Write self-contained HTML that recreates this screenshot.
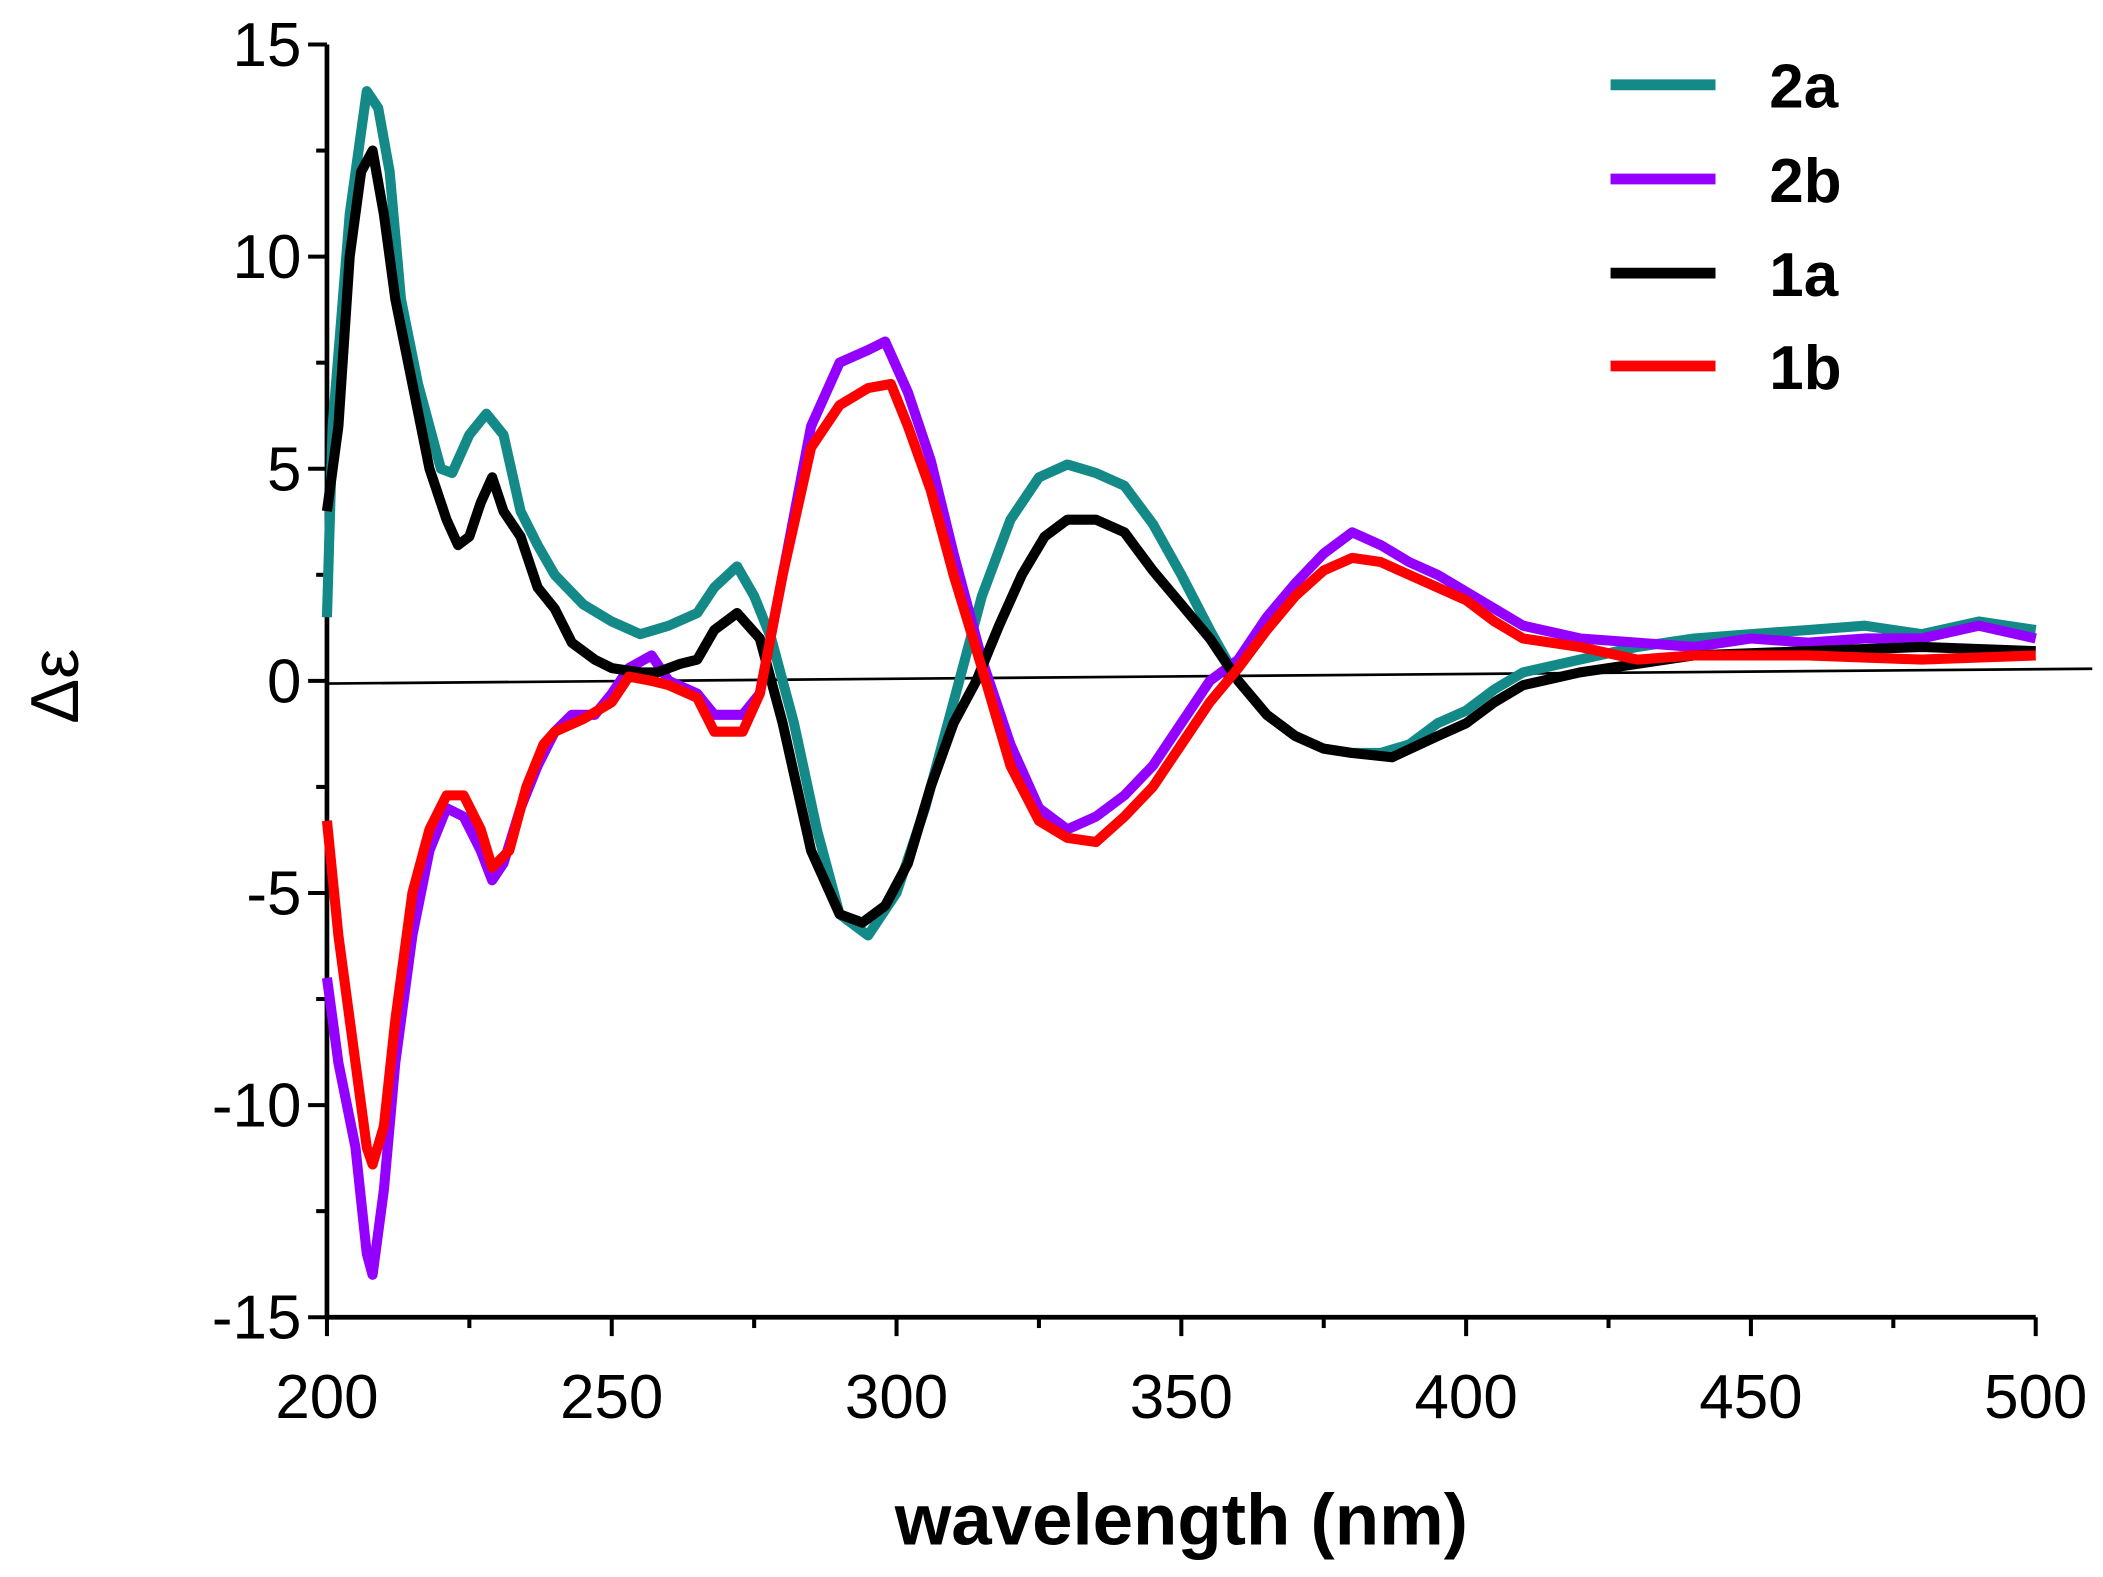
<!DOCTYPE html>
<html><head><meta charset="utf-8"><style>html,body{margin:0;padding:0;background:#fff}svg{display:block}</style></head>
<body>
<svg id="s" width="2103" height="1577" viewBox="0 0 1563 1172" xmlns="http://www.w3.org/2000/svg" font-family="Liberation Sans, Arial, sans-serif">
<rect width="1563" height="1172" fill="#fff"/>
<g id="ticks" stroke="#000" stroke-width="3"></g>
<line x1="243" y1="33" x2="243" y2="979" stroke="#000" stroke-width="3.5"/>
<line x1="243" y1="979" x2="1513" y2="979" stroke="#000" stroke-width="3.5"/>
<g id="yl" font-size="46" text-anchor="end"></g>
<g id="xl" font-size="46" text-anchor="middle"></g>
<line x1="243" y1="508" x2="1555" y2="497" stroke="#000" stroke-width="2"/>
<g id="series" fill="none" stroke-width="7.5" stroke-linejoin="round"></g>
<text x="878" y="1148" font-size="54" font-weight="bold" text-anchor="middle">wavelength (nm)</text>
<text transform="translate(58,510) rotate(-90)" font-size="50" text-anchor="middle">Δε</text>
<g stroke-width="8">
<line x1="1197" y1="63" x2="1275" y2="63" stroke="#138a87"/>
<line x1="1197" y1="133" x2="1275" y2="133" stroke="#9400ff"/>
<line x1="1197" y1="203" x2="1275" y2="203" stroke="#000"/>
<line x1="1197" y1="272" x2="1275" y2="272" stroke="#ff0000"/>
</g>
<g font-size="46" font-weight="bold">
<text x="1315" y="80">2a</text><text x="1315" y="150">2b</text><text x="1315" y="220">1a</text><text x="1315" y="289">1b</text>
</g>
</svg>
<script>
var X=n=>243+(n-200)*4.2333,Y=v=>506-v*31.53;
var ns="http://www.w3.org/2000/svg";
var t=document.getElementById('ticks'),yl=document.getElementById('yl'),xl=document.getElementById('xl');
function L(g,a,b,c,d){var l=document.createElementNS(ns,'line');l.setAttribute('x1',a);l.setAttribute('y1',b);l.setAttribute('x2',c);l.setAttribute('y2',d);g.appendChild(l);}
function T(g,x,y,s){var e=document.createElementNS(ns,'text');e.setAttribute('x',x);e.setAttribute('y',y);e.textContent=s;g.appendChild(e);}
for(var v=-15;v<=15;v+=2.5){var maj=v%5==0;L(t,243,Y(v),243-(maj?14:8),Y(v));if(maj)T(yl,224,Y(v)+16,String(v));}
for(var n=200;n<=500;n+=25){var maj=n%50==0;L(t,X(n),979,X(n),979+(maj?14:8));if(maj)T(xl,X(n),1054,String(n));}
var D={
"#138a87":[[200,1.5],[201,6],[204,11],[207,13.9],[209,13.5],[211,12],[213,9],[216,7],[220,5],[222,4.9],[225,5.8],[228,6.3],[231,5.8],[234,4],[237,3.2],[240,2.5],[245,1.8],[250,1.4],[255,1.1],[260,1.3],[265,1.6],[268,2.2],[272,2.7],[275,2],[278,1],[282,-1],[286,-3.5],[290,-5.5],[295,-6],[300,-5],[305,-3],[310,-0.5],[315,2],[320,3.8],[325,4.8],[330,5.1],[335,4.9],[340,4.6],[345,3.7],[350,2.5],[355,1.2],[360,0],[365,-0.8],[370,-1.3],[375,-1.6],[380,-1.7],[385,-1.7],[390,-1.5],[395,-1],[400,-0.7],[405,-0.2],[410,0.2],[420,0.5],[430,0.8],[440,1],[450,1.1],[460,1.2],[470,1.3],[480,1.1],[490,1.4],[500,1.2]],
"#9400ff":[[200,-7],[202,-9],[205,-11],[207,-13.5],[208,-14],[210,-12],[212,-9],[215,-6],[218,-4],[221,-3],[224,-3.2],[227,-4],[229,-4.7],[231,-4.3],[234,-3],[237,-2],[240,-1.2],[243,-0.8],[247,-0.8],[250,-0.3],[253,0.3],[257,0.6],[260,0],[265,-0.3],[268,-0.8],[273,-0.8],[276,-0.3],[280,2.5],[285,6],[290,7.5],[295,7.8],[298,8],[302,6.8],[306,5.2],[310,3],[315,0.5],[320,-1.5],[325,-3],[330,-3.5],[335,-3.2],[340,-2.7],[345,-2],[350,-1],[355,0],[360,0.5],[365,1.5],[370,2.3],[375,3],[380,3.5],[385,3.2],[390,2.8],[395,2.5],[400,2.1],[405,1.7],[410,1.3],[420,1],[430,0.9],[440,0.8],[450,1],[460,0.9],[470,1],[480,1],[490,1.3],[500,1]],
"#000000":[[200,4],[202,6],[204,10],[206,12],[208,12.5],[210,11],[212,9],[215,7],[218,5],[221,3.8],[223,3.2],[225,3.4],[227,4.2],[229,4.8],[231,4],[234,3.4],[237,2.2],[240,1.7],[243,0.9],[247,0.5],[250,0.3],[255,0.2],[258,0.2],[262,0.4],[265,0.5],[268,1.2],[272,1.6],[276,1],[280,-1],[285,-4],[290,-5.5],[294,-5.7],[298,-5.3],[302,-4.3],[306,-2.5],[310,-1],[314,0],[318,1.3],[322,2.5],[326,3.4],[330,3.8],[335,3.8],[340,3.5],[345,2.6],[350,1.8],[355,1],[360,0],[365,-0.8],[370,-1.3],[375,-1.6],[380,-1.7],[387,-1.8],[395,-1.3],[400,-1],[405,-0.5],[410,-0.1],[420,0.2],[430,0.4],[440,0.6],[460,0.7],[480,0.8],[500,0.7]],
"#ff0000":[[200,-3.3],[202,-6],[205,-9],[207,-11],[208,-11.4],[210,-10.5],[212,-8],[215,-5],[218,-3.5],[221,-2.7],[224,-2.7],[227,-3.5],[229,-4.4],[232,-4],[235,-2.5],[238,-1.5],[240,-1.2],[245,-0.9],[250,-0.5],[253,0.1],[257,0],[260,-0.1],[265,-0.4],[268,-1.2],[273,-1.2],[276,-0.3],[280,2.5],[285,5.5],[290,6.5],[295,6.9],[299,7],[302,6],[306,4.5],[310,2.5],[315,0.3],[320,-2],[325,-3.3],[330,-3.7],[335,-3.8],[340,-3.2],[345,-2.5],[350,-1.5],[355,-0.5],[360,0.3],[365,1.2],[370,2],[375,2.6],[380,2.9],[385,2.8],[390,2.5],[395,2.2],[400,1.9],[405,1.4],[410,1],[420,0.8],[430,0.5],[440,0.6],[460,0.6],[480,0.5],[500,0.6]]};
var g=document.getElementById('series');
for(var c in D){var p=document.createElementNS(ns,'polyline');p.setAttribute('stroke',c);p.setAttribute('points',D[c].map(a=>X(a[0]).toFixed(1)+','+Y(a[1]).toFixed(1)).join(' '));g.appendChild(p);}
</script>
</body></html>
